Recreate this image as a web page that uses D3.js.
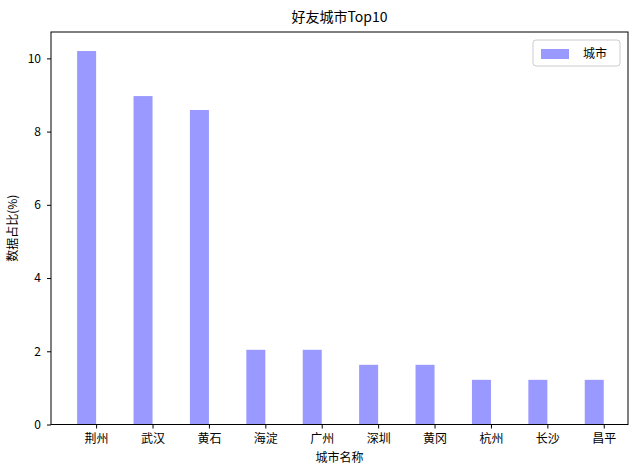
<!DOCTYPE html>
<html><head><meta charset="utf-8">
<script src="https://cdn.jsdelivr.net/npm/d3@7"></script>
<style>body{margin:0;background:#fff}text{font-family:"Noto Sans CJK SC","DejaVu Sans",sans-serif;fill:#000}</style>
</head><body><div id="chart"></div>
<script>
const cities = ["荆州","武汉","黄石","海淀","广州","深圳","黄冈","杭州","长沙","昌平"];
const values = [10.2, 8.97, 8.59, 2.04, 2.04, 1.63, 1.63, 1.22, 1.22, 1.22];
const yTicks = [0, 2, 4, 6, 8, 10];

const W = 640, H = 476;
const L = 51, R = 628, T = 32, B = 424.5;
const svg = d3.select("#chart").append("svg").attr("width", W).attr("height", H);

const x = d3.scaleLinear().domain([-0.8, 9.43]).range([L, R]);
const barW = 19;
const y = d3.scaleLinear().domain([0, 10.72]).range([B, T]);

svg.append("g").selectAll("rect").data(values).enter().append("rect")
  .attr("x", (d, i) => x(i) - barW)
  .attr("y", d => y(d))
  .attr("width", barW)
  .attr("height", d => B - y(d))
  .attr("fill", "#9999ff");

const xa = svg.append("g").attr("transform", "translate(0," + B + ")")
  .call(d3.axisBottom(x).tickValues(d3.range(cities.length)).tickFormat(i => cities[i]).tickSize(4).tickPadding(6));
const ya = svg.append("g").attr("transform", "translate(" + L + ",0)")
  .call(d3.axisLeft(y).tickValues(yTicks).tickSize(4).tickPadding(6));
[xa, ya].forEach(a => {
  a.select(".domain").remove();
  a.selectAll("text").style("font-size", "12px");
  a.selectAll("line").attr("stroke", "#000");
});

svg.append("rect").attr("x", L).attr("y", T).attr("width", R - L).attr("height", B - T)
  .attr("fill", "none").attr("stroke", "#000").attr("stroke-width", 1);

svg.append("text").attr("x", (L + R) / 2).attr("y", 22).attr("text-anchor", "middle")
  .style("font-size", "14px").text("好友城市Top10");
svg.append("text").attr("x", (L + R) / 2).attr("y", 462).attr("text-anchor", "middle")
  .style("font-size", "12px").text("城市名称");
svg.append("text").attr("transform", "translate(17," + (T + B) / 2 + ") rotate(-90)")
  .attr("text-anchor", "middle").style("font-size", "12px").text("数据占比(%)");

const lg = svg.append("g").attr("transform", "translate(533,40)");
lg.append("rect").attr("width", 87).attr("height", 26).attr("rx", 3)
  .attr("fill", "#fff").attr("stroke", "#ccc");
lg.append("rect").attr("x", 8).attr("y", 9).attr("width", 28).attr("height", 10).attr("fill", "#9999ff");
lg.append("text").attr("x", 50).attr("y", 18).style("font-size", "12px").text("城市");
</script></body></html>
